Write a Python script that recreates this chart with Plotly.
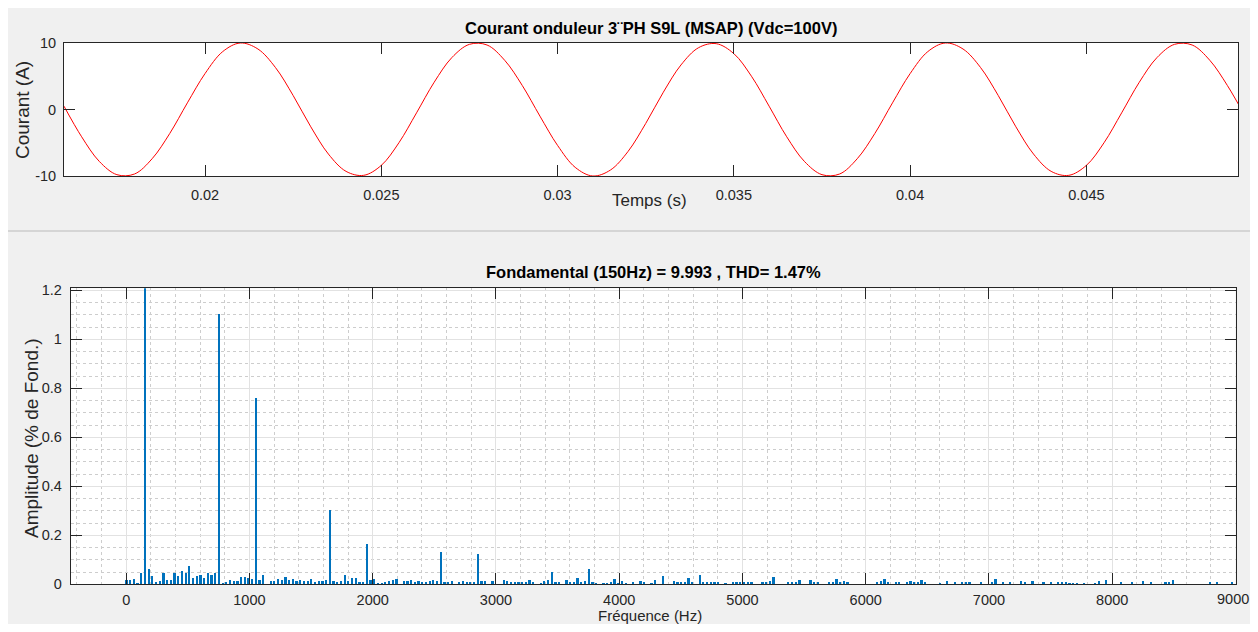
import plotly.graph_objects as go

# ---------------- data ----------------
# Top chart: inverter current (A), sampled every 0.5 ms starting at t = 0.016 s
t_start_s = 0.016
t_step_s = 0.0005
current_A = [
    0.5, -4.1, -7.8, -9.8, -9.7, -7.4, -3.6, 1.0, 5.4, 8.7,
    10.0, 9.1, 6.3, 2.1, -2.6, -6.7, -9.3, -9.9, -8.4, -5.0,
    -0.5, 4.1, 7.8, 9.8, 9.7, 7.4, 3.6, -1.0, -5.4, -8.7,
    -10.0, -9.1, -6.3, -2.1, 2.6, 6.7, 9.3, 9.9, 8.4, 5.0,
    0.5, -4.1, -7.8, -9.8, -9.7, -7.4, -3.6, 1.0, 5.4, 8.7,
    10.0, 9.1, 6.3, 2.1, -2.6, -6.7, -9.3, -9.9, -8.4, -5.0,
    -0.5, 4.1, 7.8, 9.8, 9.7, 7.4, 3.6, -1.0,
]
time_s = [round(t_start_s + i * t_step_s, 6) for i in range(len(current_A))]

# Bottom chart: harmonic spectrum, bins every 30 Hz, amplitude in % of fundamental
freq_step_hz = 30
amplitude_pct = [
    0.018, 0.018, 0.022, 0.004, 0.045, 100.0, 0.061, 0.034, 0.007, 0.011,
    0.045, 0.018, 0.018, 0.045, 0.034, 0.054, 0.045, 0.072, 0.024, 0.031,
    0.038, 0.024, 0.045, 0.038, 0.045, 1.10, 0.004, 0.007, 0.015, 0.011,
    0.014, 0.027, 0.027, 0.024, 0.022, 0.76, 0.015, 0.038, 0.0, 0.011,
    0.011, 0.022, 0.015, 0.028, 0.018, 0.022, 0.011, 0.018, 0.014, 0.014,
    0.020, 0.007, 0.011, 0.014, 0.018, 0.30, 0.014, 0.007, 0.011, 0.038,
    0.011, 0.026, 0.024, 0.007, 0.007, 0.165, 0.018, 0.022, 0.004, 0.004,
    0.007, 0.014, 0.018, 0.022, 0.0, 0.014, 0.014, 0.015, 0.007, 0.014,
    0.007, 0.007, 0.014, 0.018, 0.014, 0.13, 0.007, 0.007, 0.011, 0.0,
    0.007, 0.014, 0.007, 0.007, 0.007, 0.124, 0.011, 0.011, 0.0, 0.011,
    0.0, 0.0, 0.018, 0.014, 0.007, 0.007, 0.007, 0.007, 0.007, 0.018,
    0.007, 0.0, 0.004, 0.011, 0.018, 0.049, 0.007, 0.007, 0.0, 0.018,
    0.007, 0.007, 0.024, 0.007, 0.011, 0.061, 0.007, 0.004, 0.0, 0.004,
    0.004, 0.007, 0.022, 0.004, 0.011, 0.004, 0.0, 0.007, 0.0, 0.011,
    0.007, 0.0, 0.004, 0.018, 0.0, 0.034, 0.0, 0.0, 0.014, 0.007,
    0.007, 0.007, 0.024, 0.007, 0.0, 0.038, 0.007, 0.007, 0.007, 0.007,
    0.007, 0.0, 0.004, 0.0, 0.007, 0.007, 0.007, 0.007, 0.007, 0.007,
    0.0, 0.0, 0.007, 0.007, 0.014, 0.028, 0.0, 0.0, 0.0, 0.007,
    0.007, 0.007, 0.015, 0.0, 0.0, 0.015, 0.007, 0.007, 0.0, 0.0,
    0.007, 0.007, 0.022, 0.007, 0.014, 0.007, 0.0, 0.0, 0.0, 0.0,
    0.0, 0.0, 0.0, 0.007, 0.011, 0.022, 0.007, 0.0, 0.007, 0.007,
    0.0, 0.007, 0.011, 0.007, 0.007, 0.018, 0.007, 0.0, 0.0, 0.0,
    0.004, 0.0, 0.014, 0.0, 0.007, 0.0, 0.007, 0.007, 0.007, 0.0,
    0.0, 0.007, 0.0, 0.0, 0.007, 0.022, 0.0, 0.007, 0.0, 0.007,
    0.0, 0.0, 0.014, 0.007, 0.0, 0.014, 0.0, 0.0, 0.007, 0.0,
    0.007, 0.0, 0.007, 0.007, 0.007, 0.004, 0.004, 0.004, 0.0, 0.004,
    0.0, 0.0, 0.004, 0.011, 0.0, 0.018, 0.0, 0.0, 0.0, 0.007,
    0.0, 0.0, 0.007, 0.0, 0.0, 0.011, 0.0, 0.007, 0.0, 0.0,
    0.0, 0.007, 0.007, 0.018, 0.0, 0.0, 0.0, 0.0, 0.0, 0.0,
    0.0, 0.0, 0.0, 0.007, 0.0, 0.007, 0.0, 0.0, 0.0, 0.007,
]
frequency_hz = [i * freq_step_hz for i in range(len(amplitude_pct))]

# tick labels
top_x_tickvals = [0.02, 0.025, 0.03, 0.035, 0.04, 0.045]
top_x_ticktext = ["0.02", "0.025", "0.03", "0.035", "0.04", "0.045"]
top_y_tickvals = [-10, 0, 10]
top_y_ticktext = ["-10", "0", "10"]
bot_x_tickvals = [0, 1000, 2000, 3000, 4000, 5000, 6000, 7000, 8000, 9000]
bot_x_ticktext = ["0", "1000", "2000", "3000", "4000", "5000", "6000", "7000", "8000", "9000"]
bot_y_tickvals = [0, 0.2, 0.4, 0.6, 0.8, 1.0, 1.2]
bot_y_ticktext = ["0", "0.2", "0.4", "0.6", "0.8", "1", "1.2"]

title_top = "Courant onduleur 3¨PH S9L (MSAP) (Vdc=100V)"
title_bottom = "Fondamental (150Hz) = 9.993 , THD= 1.47%"

# ---------------- figure ----------------
# The page body keeps its default 8 px margin, so the figure is 16 px smaller
# than the window and page pixel p maps to figure pixel p - 8.
PAGE_OFF = 8
W, H = 1258 - 2 * PAGE_OFF, 632 - 2 * PAGE_OFF
FONT = "Liberation Sans, Arial, Helvetica, sans-serif"
AX = "#262626"


def px_x(p):
    return (p - PAGE_OFF) / W


def px_y(p):
    return 1 - (p - PAGE_OFF) / H


fig = go.Figure()

fig.add_trace(go.Scatter(
    x=time_s, y=current_A, mode="lines",
    line=dict(color="#FF0000", width=1, shape="spline", smoothing=1.0),
    xaxis="x", yaxis="y", showlegend=False, hoverinfo="x+y",
))

fig.add_trace(go.Bar(
    x=frequency_hz, y=amplitude_pct, width=18,
    marker=dict(color="#0072BD", line=dict(width=0)),
    xaxis="x2", yaxis="y2", showlegend=False,
))

common_axis = dict(
    showline=True, linecolor=AX, linewidth=1, mirror="ticks",
    ticks="inside", ticklen=11, tickwidth=1, tickcolor=AX,
    tickfont=dict(family=FONT, size=14.5, color=AX),
    zeroline=False, tickmode="array", automargin=False,
    ticklabeloverflow="allow",
)

# the last frequency label sits at the page edge: drawn as a right-aligned text below
bot_x_axis_text = bot_x_ticktext[:-1] + [""]

fig.update_layout(
    width=W, height=H,
    margin=dict(l=0, r=0, t=0, b=0, autoexpand=False),
    paper_bgcolor="#f0f0f0", plot_bgcolor="#ffffff",
    bargap=0,
    xaxis=dict(
        **common_axis, domain=[px_x(64), px_x(1238)], anchor="y",
        range=[0.016, 0.0493], tickvals=top_x_tickvals, ticktext=top_x_ticktext,
        showgrid=False, ticklabelstandoff=6,
    ),
    yaxis=dict(
        **common_axis, domain=[px_y(176), px_y(43)], anchor="x",
        range=[-10, 10], tickvals=top_y_tickvals, ticktext=top_y_ticktext,
        showgrid=False, ticklabelstandoff=4,
    ),
    xaxis2=dict(
        **common_axis, domain=[px_x(70.7), px_x(1235.5)], anchor="y2",
        range=[-450, 9000], tickvals=bot_x_tickvals, ticktext=bot_x_axis_text,
        showgrid=True, gridcolor="#e2e2e2", gridwidth=1, ticklabelstandoff=2,
        minor=dict(tickmode="linear", tick0=0, dtick=200, showgrid=True,
                   gridcolor="#cdcdcd", griddash="dot", gridwidth=1, ticks=""),
    ),
    yaxis2=dict(
        **common_axis, domain=[px_y(584.3), px_y(288.3)], anchor="x2",
        range=[0, 1.208], tickvals=bot_y_tickvals, ticktext=bot_y_ticktext,
        showgrid=True, gridcolor="#e2e2e2", gridwidth=1, ticklabelstandoff=5,
        minor=dict(tickmode="linear", tick0=0, dtick=0.05, showgrid=True,
                   gridcolor="#cdcdcd", griddash="dot", gridwidth=1, ticks=""),
    ),
)

# separator between the two panels
fig.add_shape(type="line", xref="paper", yref="paper", x0=0, x1=1,
              y0=px_y(231), y1=px_y(231), line=dict(color="#cccccc", width=1.5), layer="below")

annots = [
    dict(text="<b>" + title_top + "</b>", x=px_x(651), y=px_y(28), size=16.5, color="#000000", angle=0, xa="center"),
    dict(text="<b>" + title_bottom + "</b>", x=px_x(653), y=px_y(272), size=16.5, color="#000000", angle=0, xa="center"),
    dict(text="Courant (A)", x=px_x(22), y=px_y(110), size=19, color=AX, angle=-90, xa="center"),
    dict(text="Temps (s)", x=px_x(649), y=px_y(200), size=17, color=AX, angle=0, xa="center"),
    dict(text="Amplitude (% de Fond.)", x=px_x(31), y=px_y(438), size=19, color=AX, angle=-90, xa="center"),
    dict(text="Fréquence (Hz)", x=px_x(650), y=px_y(615), size=15, color=AX, angle=0, xa="center"),
    dict(text=bot_x_ticktext[-1], x=px_x(1250), y=px_y(599), size=14.5, color=AX, angle=0, xa="right"),
]
for a in annots:
    fig.add_annotation(
        text=a["text"], x=a["x"], y=a["y"], xref="paper", yref="paper",
        xanchor=a["xa"], yanchor="middle", showarrow=False, textangle=a["angle"],
        font=dict(family=FONT, size=a["size"], color=a["color"]),
        borderpad=0,
    )

fig.write_html("out.html", config={"displayModeBar": False})
